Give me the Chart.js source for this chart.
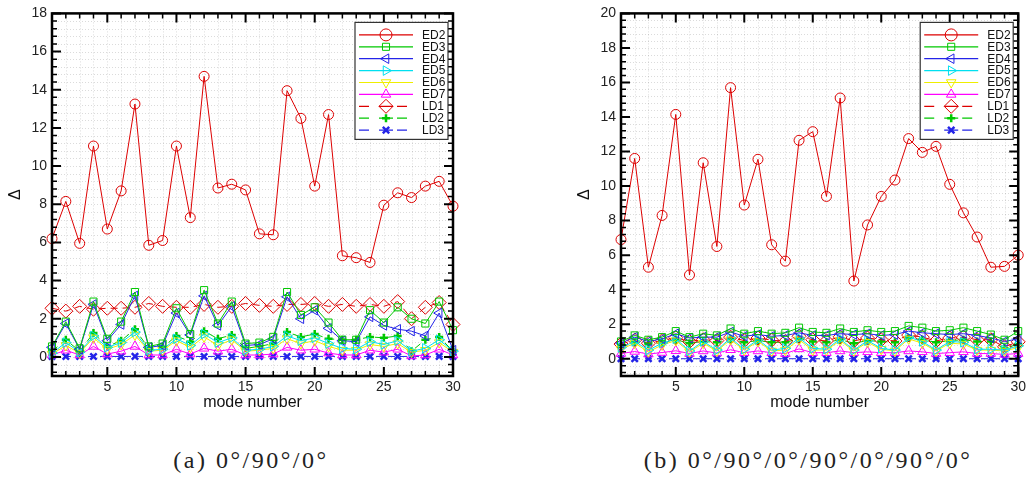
<!DOCTYPE html>
<html>
<head>
<meta charset="utf-8">
<script src="https://cdn.jsdelivr.net/npm/chart.js@4.4.1/dist/chart.umd.min.js"></script>
<style>
  body { margin: 0; background: #fff; width: 1029px; height: 479px; position: relative; overflow: hidden; }
  canvas { position: absolute; top: 0; }
  #chartA { left: 0; }
  #chartB { left: 569px; }
  .caption {
    position: absolute; top: 447px; transform: translateX(-50%);
    font-family: "Liberation Serif", serif; font-size: 24px; color: #222;
    white-space: nowrap; letter-spacing: 2.5px;
  }
</style>
</head>
<body>
<canvas id="chartA" width="514" height="420"></canvas>
<canvas id="chartB" width="460" height="420"></canvas>
<div class="caption" style="left:251px">(a) 0°/90°/0°</div>
<div class="caption" style="left:808px">(b) 0°/90°/0°/90°/0°/90°/0°</div>
<script>
const modeNumbers = [1, 2, 3, 4, 5, 6, 7, 8, 9, 10, 11, 12, 13, 14, 15, 16, 17, 18, 19, 20, 21, 22, 23, 24, 25, 26, 27, 28, 29, 30];
const seriesNames = ['ED2', 'ED3', 'ED4', 'ED5', 'ED6', 'ED7', 'LD1', 'LD2', 'LD3'];
const xTicks = [5, 10, 15, 20, 25, 30];
const yTicksA = [0, 2, 4, 6, 8, 10, 12, 14, 16, 18];
const yTicksB = [0, 2, 4, 6, 8, 10, 12, 14, 16, 18, 20];

// (a) 0/90/0
const ed2A = [6.2, 8.15, 5.95, 11.05, 6.7, 8.7, 13.25, 5.85, 6.1, 11.05, 7.3, 14.7, 8.85, 9.05, 8.75, 6.45, 6.4, 13.95, 12.5, 8.95, 12.7, 5.3, 5.2, 4.95, 7.95, 8.6, 8.35, 8.95, 9.2, 7.9];
const ed3A = [0.55, 1.85, 0.45, 2.9, 0.95, 1.85, 3.4, 0.55, 0.7, 2.55, 1.2, 3.5, 1.75, 2.9, 0.7, 0.75, 1.05, 3.4, 2.2, 2.6, 1.8, 0.9, 0.9, 2.45, 1.8, 2.6, 2.0, 1.75, 2.9, 1.4];
const ed4A = [0.5, 1.75, 0.4, 2.75, 0.85, 1.7, 3.2, 0.5, 0.6, 2.3, 1.15, 3.2, 1.65, 2.65, 0.6, 0.65, 0.95, 3.15, 2.0, 2.45, 1.5, 0.85, 0.8, 2.1, 1.65, 1.45, 1.35, 1.1, 2.3, 0.35];
const ed5A = [0.2, 0.75, 0.25, 1.1, 0.5, 0.75, 1.3, 0.35, 0.4, 0.95, 0.6, 1.2, 0.75, 1.0, 0.35, 0.4, 0.55, 1.1, 0.85, 1.0, 0.7, 0.45, 0.4, 0.8, 0.65, 0.85, 0.3, 0.45, 0.9, 0.3];
const ed6A = [0.15, 0.6, 0.2, 1.0, 0.4, 0.65, 1.15, 0.3, 0.35, 0.85, 0.5, 1.05, 0.6, 0.9, 0.3, 0.35, 0.45, 0.95, 0.7, 0.85, 0.55, 0.35, 0.35, 0.65, 0.55, 0.7, 0.25, 0.35, 0.75, 0.25];
const ed7A = [0.1, 0.35, 0.1, 0.55, 0.15, 0.3, 0.55, 0.1, 0.1, 0.4, 0.15, 0.45, 0.3, 0.4, 0.1, 0.1, 0.15, 0.5, 0.35, 0.4, 0.2, 0.1, 0.1, 0.35, 0.25, 0.4, 0.05, 0.1, 0.4, 0.1];
const ld1A = [2.55, 2.4, 2.65, 2.5, 2.55, 2.55, 2.6, 2.8, 2.65, 2.6, 2.6, 2.75, 2.6, 2.65, 2.8, 2.7, 2.65, 2.75, 2.75, 2.8, 2.65, 2.75, 2.65, 2.75, 2.65, 2.9, 2.0, 2.6, 2.85, 1.7];
const ld2A = [0.3, 0.9, 0.3, 1.25, 0.55, 0.85, 1.45, 0.45, 0.5, 1.1, 0.8, 1.35, 0.95, 1.15, 0.45, 0.55, 0.7, 1.3, 1.05, 1.2, 0.95, 0.9, 0.9, 1.05, 1.0, 1.1, 0.3, 0.9, 1.05, 0.3];
const ld3A = [0.03, 0.02, 0.03, 0.02, 0.03, 0.02, 0.03, 0.02, 0.03, 0.02, 0.03, 0.02, 0.03, 0.02, 0.03, 0.02, 0.03, 0.02, 0.03, 0.02, 0.03, 0.02, 0.03, 0.02, 0.03, 0.02, 0.03, 0.02, 0.03, 0.02];

// (b) 0/90/0/90/0/90/0
const ed2B = [6.9, 11.6, 5.3, 8.3, 14.15, 4.85, 11.35, 6.5, 15.7, 8.9, 11.55, 6.6, 5.65, 12.65, 13.15, 9.4, 15.1, 4.5, 7.75, 9.4, 10.35, 12.75, 11.95, 12.3, 10.1, 8.45, 7.05, 5.3, 5.35, 6.0];
const ed3B = [1.0, 1.35, 1.1, 1.25, 1.6, 1.25, 1.45, 1.35, 1.75, 1.45, 1.6, 1.45, 1.5, 1.8, 1.55, 1.5, 1.75, 1.55, 1.65, 1.55, 1.6, 1.9, 1.8, 1.6, 1.65, 1.8, 1.6, 1.4, 1.1, 1.6];
const ed4B = [0.9, 1.25, 1.0, 1.15, 1.45, 1.2, 1.25, 1.25, 1.55, 1.3, 1.4, 1.3, 1.35, 1.5, 1.35, 1.35, 1.45, 1.4, 1.45, 1.35, 1.4, 1.6, 1.5, 1.45, 1.4, 1.45, 1.35, 1.2, 1.0, 1.15];
const ed5B = [0.65, 1.0, 0.5, 0.9, 1.15, 0.45, 1.0, 0.5, 1.2, 0.55, 1.1, 0.5, 0.6, 1.2, 0.6, 0.55, 1.15, 0.5, 1.05, 0.6, 0.5, 1.25, 1.0, 0.5, 1.0, 0.95, 0.55, 0.55, 0.5, 0.75];
const ed6B = [0.55, 0.9, 0.4, 0.8, 1.05, 0.4, 0.9, 0.45, 1.1, 0.5, 1.0, 0.45, 0.5, 1.1, 0.5, 0.5, 1.05, 0.45, 0.95, 0.55, 0.45, 1.15, 0.9, 0.45, 0.9, 0.85, 0.5, 0.5, 0.45, 0.65];
const ed7B = [0.3, 0.42, 0.27, 0.36, 0.46, 0.3, 0.45, 0.33, 0.52, 0.35, 0.45, 0.35, 0.3, 0.57, 0.35, 0.35, 0.45, 0.35, 0.4, 0.35, 0.35, 0.45, 0.4, 0.3, 0.35, 0.4, 0.3, 0.3, 0.25, 0.3];
const ld1B = [0.85, 1.08, 0.9, 1.05, 1.22, 1.0, 1.1, 1.05, 1.25, 1.05, 1.2, 1.08, 1.0, 1.3, 1.1, 1.03, 1.27, 1.03, 1.2, 1.1, 1.03, 1.37, 1.25, 1.03, 1.2, 1.25, 1.1, 1.1, 0.69, 0.98];
const ld2B = [0.7, 0.95, 0.85, 0.95, 1.1, 0.9, 1.0, 0.95, 1.15, 0.95, 1.05, 0.95, 0.95, 1.15, 1.0, 0.95, 1.1, 0.9, 1.05, 1.0, 0.95, 1.2, 1.1, 0.95, 1.05, 1.1, 1.0, 1.0, 0.6, 0.85];
const ld3B = [0.0, 0.0, 0.0, 0.0, 0.0, 0.0, 0.0, 0.0, 0.0, 0.0, 0.0, 0.0, 0.0, 0.0, 0.0, 0.0, 0.0, 0.0, 0.0, 0.0, 0.0, 0.0, 0.0, 0.0, 0.0, 0.0, 0.0, 0.0, 0.0, 0.0];

const seriesColors = ['#dd0000', '#00c800', '#2424e8', '#00e0f0', '#eeee00', '#ff00ff', '#dd0000', '#00c800', '#2424e8'];

// marker look per series: style, rotation, radius, stroke width, dashed line
const markers = [
  { style: 'circle', rot: 0, r: 5, w: 1, dash: false },
  { style: 'rect', rot: 0, r: 5, w: 1, dash: false },
  { style: 'triangle', rot: -90, r: 5.5, w: 1, dash: false },
  { style: 'triangle', rot: 90, r: 5.5, w: 1, dash: false },
  { style: 'triangle', rot: 180, r: 5.5, w: 1, dash: false },
  { style: 'triangle', rot: 0, r: 5.5, w: 1, dash: false },
  { style: 'rectRot', rot: 0, r: 7, w: 1, dash: true },
  { style: 'cross', rot: 0, r: 4, w: 2.5, dash: true },
  { style: 'crossRot', rot: 0, r: 4.5, w: 2.5, dash: true }
];

const FONT = '"Liberation Sans", Arial, sans-serif';

function stepValues(min, max, step) {
  const out = [];
  for (let k = Math.ceil(min / step - 1e-9); k <= Math.floor(max / step + 1e-9); k++) {
    out.push(Math.round(k * step * 1e6) / 1e6);
  }
  return out;
}

// dotted grid under the data, boxed frame with inward ticks on top
const framePlugin = {
  id: 'frame',
  beforeDatasetsDraw(chart, args, opts) {
    const { ctx, chartArea: a, scales: { x, y } } = chart;
    ctx.save();
    ctx.strokeStyle = 'rgba(0,0,0,0.14)';
    ctx.lineWidth = 1;
    ctx.setLineDash([1, 2]);
    ctx.beginPath();
    stepValues(x.min, x.max, opts.xMinor).forEach(v => {
      const px = Math.round(x.getPixelForValue(v)) + 0.5;
      ctx.moveTo(px, a.top); ctx.lineTo(px, a.bottom);
    });
    stepValues(y.min, y.max, opts.yMinor).forEach(v => {
      const py = Math.round(y.getPixelForValue(v)) + 0.5;
      ctx.moveTo(a.left, py); ctx.lineTo(a.right, py);
    });
    ctx.stroke();
    ctx.restore();
  },
  afterDatasetsDraw(chart, args, opts) {
    const { ctx, chartArea: a, scales: { x, y } } = chart;
    const isMajor = (v, step) => Math.abs(v / step - Math.round(v / step)) < 1e-6;
    ctx.save();
    ctx.strokeStyle = '#000';
    stepValues(x.min, x.max, opts.xMinor).forEach(v => {
      const px = x.getPixelForValue(v);
      const len = isMajor(v, opts.xMajor) ? 9 : 5;
      ctx.lineWidth = isMajor(v, opts.xMajor) ? 2 : 1.5;
      ctx.beginPath();
      ctx.moveTo(px, a.bottom); ctx.lineTo(px, a.bottom - len);
      ctx.moveTo(px, a.top); ctx.lineTo(px, a.top + len);
      ctx.stroke();
    });
    stepValues(y.min, y.max, opts.yMinor).forEach(v => {
      const py = y.getPixelForValue(v);
      const len = isMajor(v, opts.yMajor) ? 9 : 5;
      ctx.lineWidth = isMajor(v, opts.yMajor) ? 2 : 1.5;
      ctx.beginPath();
      ctx.moveTo(a.left, py); ctx.lineTo(a.left + len, py);
      ctx.moveTo(a.right, py); ctx.lineTo(a.right - len, py);
      ctx.stroke();
    });
    ctx.lineWidth = 2.5;
    ctx.strokeRect(a.left, a.top, a.right - a.left, a.bottom - a.top);
    ctx.restore();
  }
};

// boxed legend in the upper right corner of the plot
const boxLegendPlugin = {
  id: 'boxLegend',
  afterDraw(chart) {
    const { ctx, chartArea: a } = chart;
    const bx = a.right - 98, by = a.top + 9, bw = 93, bh = 117;
    ctx.save();
    ctx.fillStyle = '#fff';
    ctx.fillRect(bx, by, bw, bh);
    ctx.strokeStyle = '#333';
    ctx.lineWidth = 1.2;
    ctx.strokeRect(bx, by, bw, bh);
    ctx.font = '12px ' + FONT;
    ctx.textBaseline = 'middle';
    chart.data.datasets.forEach((ds, i) => {
      const m = markers[i];
      const ry = by + 12.5 + i * 11.9;
      ctx.strokeStyle = ds.borderColor;
      ctx.lineWidth = 1.2;
      ctx.beginPath();
      if (m.dash) {
        [[4, 14], [24, 38], [42, 52]].forEach(([s, e]) => { ctx.moveTo(bx + s, ry); ctx.lineTo(bx + e, ry); });
      } else {
        ctx.moveTo(bx + 4, ry); ctx.lineTo(bx + 58, ry);
      }
      ctx.stroke();
      ctx.fillStyle = 'rgba(0,0,0,0)';
      ctx.lineWidth = m.w;
      Chart.helpers.drawPoint(ctx, {
        pointStyle: m.style, rotation: m.rot,
        radius: m.style === 'circle' ? 6 : m.r, borderWidth: m.w
      }, bx + 31, ry);
      ctx.fillStyle = '#111';
      ctx.fillText(ds.label, bx + 67, ry + 0.5);
    });
    ctx.restore();
  }
};

function buildChart(canvasId, series, yMax, yTicks, rightPad) {
  const datasets = seriesNames.map((name, i) => ({
    label: name,
    data: modeNumbers.map((m, j) => ({ x: m, y: series[i][j] })),
    borderColor: seriesColors[i],
    backgroundColor: 'transparent',
    borderWidth: 1,
    borderDash: markers[i].dash ? [7, 5] : [],
    pointStyle: markers[i].style,
    pointRotation: markers[i].rot,
    pointRadius: markers[i].r,
    pointBorderWidth: markers[i].w,
    pointBorderColor: seriesColors[i],
    pointBackgroundColor: 'transparent',
    tension: 0,
    clip: false
  }));

  return new Chart(document.getElementById(canvasId), {
    type: 'line',
    data: { datasets },
    plugins: [framePlugin, boxLegendPlugin],
    options: {
      responsive: false,
      animation: false,
      devicePixelRatio: 1,
      layout: { padding: { top: 10, right: rightPad, left: 0, bottom: 0 } },
      scales: {
        x: {
          type: 'linear', min: 1, max: 30,
          afterBuildTicks: (s) => { s.ticks = xTicks.map(v => ({ value: v })); },
          afterFit: (s) => { s.height = 44; },
          ticks: { font: { family: FONT, size: 14 }, color: '#222', padding: 3, maxRotation: 0, autoSkip: false },
          grid: { display: false, drawTicks: false },
          border: { display: false },
          title: { display: true, text: 'mode number', color: '#111', font: { family: FONT, size: 16 }, padding: { top: 0, bottom: 8 } }
        },
        y: {
          type: 'linear', min: -1, max: yMax,
          afterBuildTicks: (s) => { s.ticks = yTicks.map(v => ({ value: v })); },
          afterFit: (s) => { s.width = 52; },
          ticks: { font: { family: FONT, size: 14 }, color: '#222', padding: 5 },
          grid: { display: false, drawTicks: false },
          border: { display: false },
          title: { display: true, text: 'Δ', color: '#111', font: { family: FONT, size: 16 }, padding: { top: 6, bottom: 0 } }
        }
      },
      plugins: {
        legend: { display: false },
        tooltip: { enabled: false },
        frame: { xMajor: 5, xMinor: 1, yMajor: 2, yMinor: 0.4 }
      }
    }
  });
}

buildChart('chartA', [ed2A, ed3A, ed4A, ed5A, ed6A, ed7A, ld1A, ld2A, ld3A], 18, yTicksA, 61);
buildChart('chartB', [ed2B, ed3B, ed4B, ed5B, ed6B, ed7B, ld1B, ld2B, ld3B], 20, yTicksB, 7);
</script>
</body>
</html>
